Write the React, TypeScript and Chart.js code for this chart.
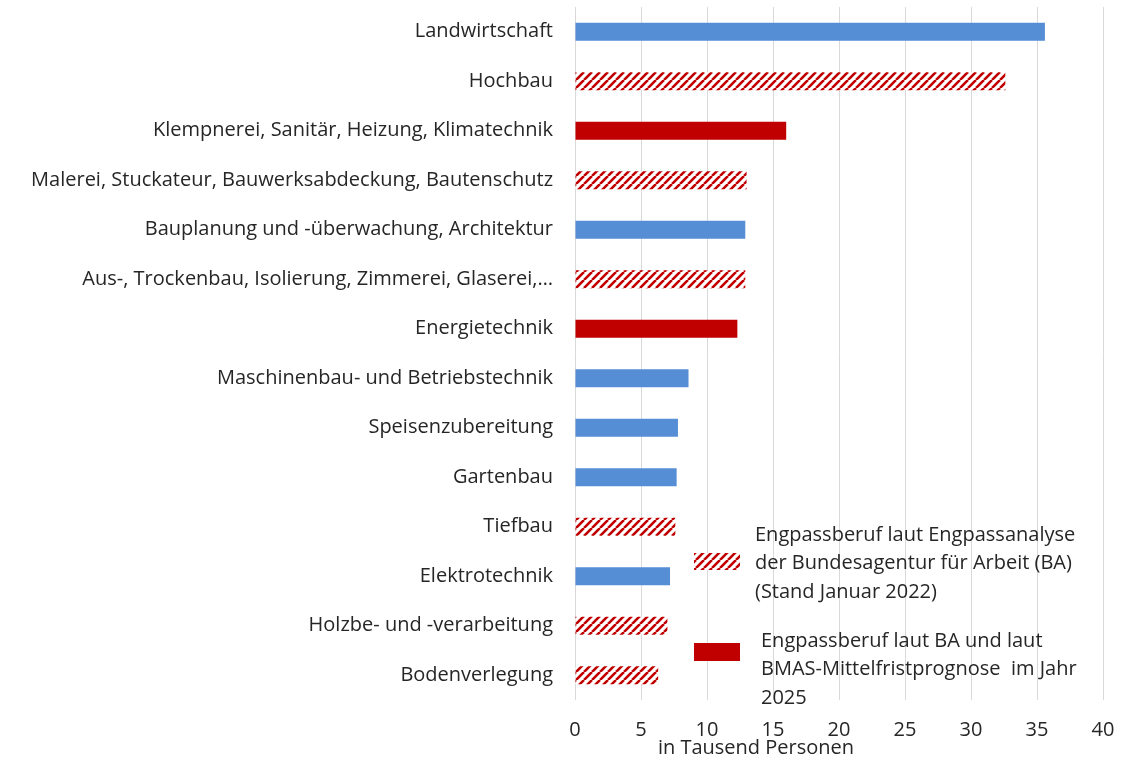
import React, { useEffect, useRef } from "react";
import { Chart, registerables } from "chart.js";

Chart.register(...registerables);

const categories = [
  "Landwirtschaft",
  "Hochbau",
  "Klempnerei, Sanitär, Heizung, Klimatechnik",
  "Malerei, Stuckateur, Bauwerksabdeckung, Bautenschutz",
  "Bauplanung und -überwachung, Architektur",
  "Aus-, Trockenbau, Isolierung, Zimmerei, Glaserei,…",
  "Energietechnik",
  "Maschinenbau- und Betriebstechnik",
  "Speisenzubereitung",
  "Gartenbau",
  "Tiefbau",
  "Elektrotechnik",
  "Holzbe- und -verarbeitung",
  "Bodenverlegung",
];

const values = [35.6, 32.6, 16.0, 13.0, 12.9, 12.9, 12.3, 8.6, 7.8, 7.7, 7.6, 7.2, 7.0, 6.3];

// "other" = blue, "ba" = hatched red, "ba2025" = solid red
const groups = [
  "other", "ba", "ba2025", "ba", "other", "ba", "ba2025",
  "other", "other", "other", "ba", "other", "ba", "ba",
];

const xMin = 0;
const xMax = 40;
const xStep = 5;

const axisTitle = "in Tausend Personen";

const legendBA = [
  "Engpassberuf laut Engpassanalyse",
  "der Bundesagentur für Arbeit (BA)",
  "(Stand Januar 2022)",
];
const legendBA2025 = [
  "Engpassberuf laut BA und laut",
  "BMAS-Mittelfristprognose  im Jahr",
  "2025",
];

const BLUE = "#558ED5";
const RED = "#C00000";
const TEXT = "#262626";
const GRID = "#D9D9D9";
const FONT = "'Open Sans', 'Noto Sans', sans-serif";
const FONT_SIZE = 20;

function makeHatch(): CanvasPattern | string {
  const s = 8;
  const c = document.createElement("canvas");
  c.width = s;
  c.height = s;
  const g = c.getContext("2d");
  if (!g) return RED;
  g.fillStyle = "#ffffff";
  g.fillRect(0, 0, s, s);
  g.strokeStyle = RED;
  g.lineWidth = 2.6;
  g.beginPath();
  for (const o of [-s, 0, s]) {
    g.moveTo(o, s);
    g.lineTo(o + s, 0);
  }
  g.stroke();
  const p = g.createPattern(c, "repeat");
  return p || RED;
}

export default function App() {
  const ref = useRef<HTMLCanvasElement | null>(null);

  useEffect(() => {
    if (!ref.current) return;
    const hatch = makeHatch();
    const colorFor = (g: string) => (g === "other" ? BLUE : g === "ba" ? hatch : RED);

    const overlay = {
      id: "overlay",
      afterDraw(chart: any) {
        const ctx = chart.ctx as CanvasRenderingContext2D;
        ctx.save();
        ctx.font = `${FONT_SIZE}px ${FONT}`;
        ctx.fillStyle = TEXT;
        ctx.textBaseline = "middle";

        // axis title
        ctx.textAlign = "center";
        ctx.fillText(axisTitle, 756, 748);

        // legend
        ctx.textAlign = "left";
        ctx.fillStyle = hatch as any;
        ctx.fillRect(694, 553, 46, 17);
        ctx.fillStyle = TEXT;
        legendBA.forEach((t, i) => ctx.fillText(t, 755, 535 + i * 28.5));

        ctx.fillStyle = RED;
        ctx.fillRect(694, 643, 46, 18);
        ctx.fillStyle = TEXT;
        legendBA2025.forEach((t, i) => ctx.fillText(t, 761, 641 + i * 28.5));
        ctx.restore();
      },
    };

    const chart = new Chart(ref.current, {
      type: "bar",
      data: {
        labels: categories,
        datasets: [
          {
            data: values,
            backgroundColor: groups.map(colorFor) as any,
            borderWidth: 0,
            categoryPercentage: 1,
            barPercentage: 0.36,
          },
        ],
      },
      options: {
        indexAxis: "y",
        animation: false,
        responsive: true,
        maintainAspectRatio: false,
        layout: { padding: { top: 7, right: 33, left: 0, bottom: 0 } },
        plugins: {
          legend: { display: false },
          tooltip: { enabled: false },
        },
        scales: {
          x: {
            min: xMin,
            max: xMax,
            ticks: {
              stepSize: xStep,
              color: TEXT,
              font: { family: FONT, size: FONT_SIZE },
              padding: 18,
            },
            grid: { color: GRID, lineWidth: 1, drawTicks: false },
            border: { display: false },
            afterFit(scale: any) {
              scale.height = 57;
              scale.paddingLeft = 0;
              scale.paddingRight = 0;
            },
          },
          y: {
            ticks: {
              color: TEXT,
              font: { family: FONT, size: FONT_SIZE },
              padding: 22,
              autoSkip: false,
            },
            grid: { display: false, drawTicks: false },
            border: { display: false },
            afterFit(scale: any) {
              scale.width = 575;
              scale.paddingTop = 0;
              scale.paddingBottom = 0;
            },
          },
        },
      },
      plugins: [overlay],
    });
    return () => chart.destroy();
  }, []);

  return (
    <div style={{ position: "fixed", left: 0, top: 0, width: 1136, height: 757, background: "#fff" }}>
      <canvas ref={ref} />
    </div>
  );
}
